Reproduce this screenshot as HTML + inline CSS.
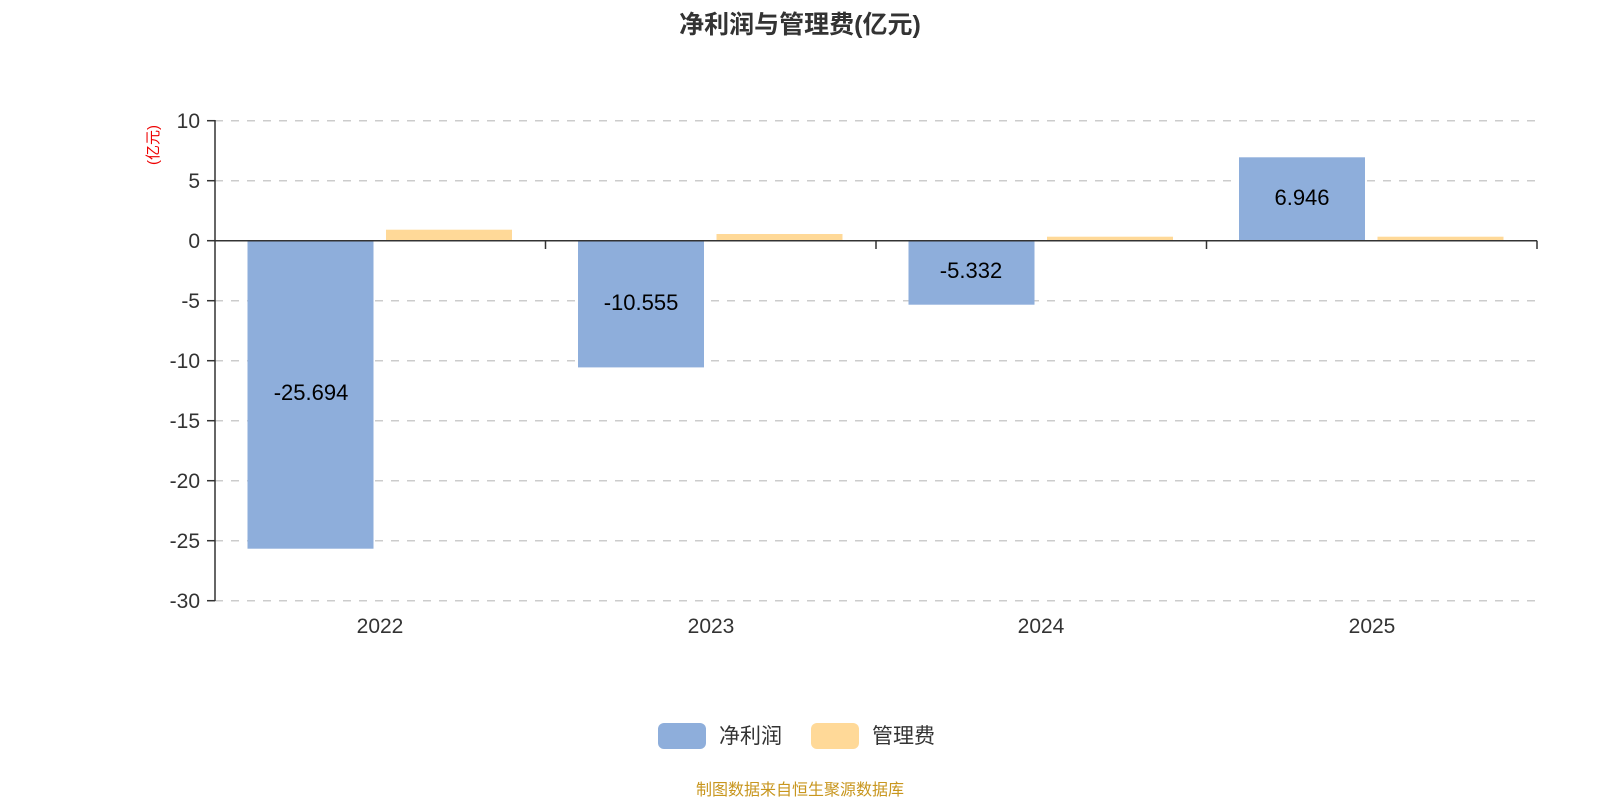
<!DOCTYPE html>
<html><head><meta charset="utf-8"><style>
body{margin:0;width:1600px;height:800px;background:#fff;overflow:hidden}
text{font-family:"Liberation Sans","Noto Sans CJK SC",sans-serif}
</style></head><body>
<svg width="1600" height="800" xmlns="http://www.w3.org/2000/svg">
<text x="800" y="33" text-anchor="middle" font-size="25" font-weight="bold" fill="#333">净利润与管理费(亿元)</text>
<g stroke="#ccc" stroke-width="1.5" stroke-dasharray="8,8">
<line x1="215" x2="1537" y1="120.7" y2="120.7"/><line x1="215" x2="1537" y1="180.7" y2="180.7"/>
<line x1="215" x2="1537" y1="300.7" y2="300.7"/><line x1="215" x2="1537" y1="360.7" y2="360.7"/>
<line x1="215" x2="1537" y1="420.7" y2="420.7"/><line x1="215" x2="1537" y1="480.7" y2="480.7"/>
<line x1="215" x2="1537" y1="540.7" y2="540.7"/><line x1="215" x2="1537" y1="600.7" y2="600.7"/>
</g>
<g fill="#8eaedb">
<rect x="247.5" y="240.7" width="126" height="308"/>
<rect x="578" y="240.7" width="126" height="126.7"/>
<rect x="908.5" y="240.7" width="126" height="64"/>
<rect x="1239" y="157.3" width="126" height="83.4"/>
</g>
<g fill="#ffd998">
<rect x="386" y="229.7" width="126" height="11"/>
<rect x="716.5" y="234" width="126" height="6.7"/>
<rect x="1047" y="236.7" width="126" height="4"/>
<rect x="1377.5" y="236.7" width="126" height="4"/>
</g>
<g stroke="#333" stroke-width="1.5" fill="none">
<line x1="215" y1="120" x2="215" y2="601"/>
<line x1="215" y1="240.7" x2="1537" y2="240.7"/>
<line x1="545.5" y1="240.7" x2="545.5" y2="249"/><line x1="876" y1="240.7" x2="876" y2="249"/>
<line x1="1206.5" y1="240.7" x2="1206.5" y2="249"/><line x1="1537" y1="240.7" x2="1537" y2="249"/>
<line x1="207" x2="215" y1="120.7" y2="120.7"/><line x1="207" x2="215" y1="180.7" y2="180.7"/><line x1="207" x2="215" y1="240.7" y2="240.7"/>
<line x1="207" x2="215" y1="300.7" y2="300.7"/><line x1="207" x2="215" y1="360.7" y2="360.7"/><line x1="207" x2="215" y1="420.7" y2="420.7"/>
<line x1="207" x2="215" y1="480.7" y2="480.7"/><line x1="207" x2="215" y1="540.7" y2="540.7"/><line x1="207" x2="215" y1="600.7" y2="600.7"/>
</g>
<g font-size="21" fill="#333" text-anchor="end">
<text x="200" y="128">10</text><text x="200" y="188">5</text><text x="200" y="248">0</text>
<text x="200" y="308">-5</text><text x="200" y="368">-10</text><text x="200" y="428">-15</text>
<text x="200" y="488">-20</text><text x="200" y="548">-25</text><text x="200" y="608">-30</text>
</g>
<text transform="translate(158,145) rotate(-90)" font-size="15" fill="#e00" text-anchor="middle">(亿元)</text>
<g font-size="21" fill="#333" text-anchor="middle">
<text x="380" y="633">2022</text><text x="711" y="633">2023</text><text x="1041" y="633">2024</text><text x="1372" y="633">2025</text>
</g>
<g font-size="22" fill="#000" text-anchor="middle">
<text x="311" y="400">-25.694</text><text x="641" y="310">-10.555</text>
<text x="971" y="278">-5.332</text><text x="1302" y="205">6.946</text>
</g>
<rect x="658" y="723" width="48" height="26" rx="6" fill="#8eaedb"/>
<text x="719" y="743" font-size="21" fill="#333">净利润</text>
<rect x="811" y="723" width="48" height="26" rx="6" fill="#ffd998"/>
<text x="872" y="743" font-size="21" fill="#333">管理费</text>
<text x="800" y="795" text-anchor="middle" font-size="16" fill="#c8961e">制图数据来自恒生聚源数据库</text>
</svg>
</body></html>
